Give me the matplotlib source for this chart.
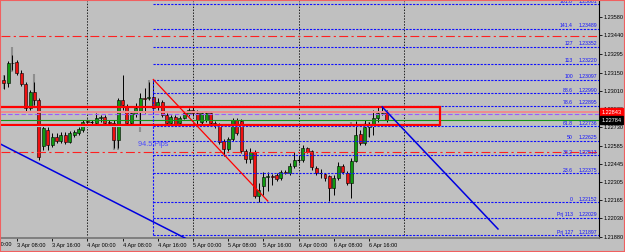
import matplotlib
matplotlib.use("Agg")
import matplotlib.pyplot as plt
from matplotlib.patches import Rectangle
import numpy as np

# hourly candles, x = hours since 3 Apr 00:00
first_hour = 5
opens = [1.23093, 1.23070, 1.23225, 1.23232, 1.23147, 1.23062, 1.22877, 1.23001, 1.22939, 1.22583,
         1.22707, 1.22591, 1.22653, 1.22622, 1.22668, 1.22614, 1.22668, 1.22684, 1.22707, 1.22776,
         1.22769, 1.22761, 1.22800, 1.22807, 1.22769, 1.22761, 1.22630, 1.22939, 1.22892, 1.22761,
         1.22831, 1.22846, 1.22954, 1.22954, 1.22962, 1.22885, 1.22923, 1.22823, 1.22761, 1.22807,
         1.22761, 1.22800, 1.22831, 1.22861, 1.22838, 1.22769, 1.22784, 1.22838, 1.22761, 1.22745,
         1.22622, 1.22560, 1.22637, 1.22784, 1.22776, 1.22545, 1.22483, 1.22537, 1.22197, 1.22274,
         1.22344, 1.22352, 1.22359, 1.22336, 1.22382, 1.22375, 1.22429, 1.22475, 1.22475, 1.22568,
         1.22545, 1.22413, 1.22375, 1.22367, 1.22352, 1.22259, 1.22336, 1.22429, 1.22375, 1.22297,
         1.22467, 1.22676, 1.22606, 1.22730, 1.22745, 1.22800, 1.22838, 1.22846]
highs = [1.23132, 1.23240, 1.23286, 1.23248, 1.23171, 1.23078, 1.23016, 1.23078, 1.22954, 1.22745,
         1.22730, 1.22684, 1.22684, 1.22692, 1.22692, 1.22699, 1.22707, 1.22730, 1.22784, 1.22792,
         1.22784, 1.22838, 1.22823, 1.22823, 1.22784, 1.22784, 1.22954, 1.23132, 1.22908, 1.22846,
         1.22916, 1.22993, 1.23031, 1.23078, 1.23097, 1.22954, 1.22939, 1.22838, 1.22823, 1.22823,
         1.22815, 1.22854, 1.22877, 1.22885, 1.22861, 1.22846, 1.22854, 1.22854, 1.22776, 1.22761,
         1.22637, 1.22653, 1.22800, 1.22800, 1.22792, 1.22560, 1.22568, 1.22552, 1.22297, 1.22382,
         1.22382, 1.22367, 1.22375, 1.22398, 1.22398, 1.22452, 1.22537, 1.22514, 1.22591, 1.22576,
         1.22552, 1.22429, 1.22406, 1.22375, 1.22359, 1.22359, 1.22460, 1.22444, 1.22390, 1.22491,
         1.22776, 1.22707, 1.22784, 1.22769, 1.22861, 1.22885, 1.22885, 1.22861]
lows = [1.23024, 1.23039, 1.23171, 1.23132, 1.23047, 1.22854, 1.22861, 1.22900, 1.22475, 1.22552,
        1.22552, 1.22576, 1.22606, 1.22606, 1.22599, 1.22606, 1.22653, 1.22668, 1.22692, 1.22761,
        1.22753, 1.22745, 1.22769, 1.22753, 1.22745, 1.22568, 1.22568, 1.22861, 1.22745, 1.22745,
        1.22807, 1.22745, 1.22838, 1.22939, 1.22846, 1.22861, 1.22807, 1.22753, 1.22745, 1.22738,
        1.22745, 1.22792, 1.22815, 1.22815, 1.22753, 1.22753, 1.22769, 1.22745, 1.22722, 1.22599,
        1.22506, 1.22545, 1.22622, 1.22668, 1.22529, 1.22452, 1.22452, 1.22181, 1.22152, 1.22205,
        1.22236, 1.22282, 1.22313, 1.22321, 1.22367, 1.22359, 1.22413, 1.22452, 1.22460, 1.22529,
        1.22398, 1.22359, 1.22336, 1.22313, 1.22158, 1.22205, 1.22321, 1.22367, 1.22282, 1.22181,
        1.22460, 1.22591, 1.22591, 1.22653, 1.22668, 1.22769, 1.22823, 1.22769]
closes = [1.23070, 1.23225, 1.23221, 1.23147, 1.23062, 1.22877, 1.23001, 1.22939, 1.22498, 1.22722,
          1.22591, 1.22653, 1.22622, 1.22668, 1.22614, 1.22684, 1.22692, 1.22715, 1.22769, 1.22772,
          1.22769, 1.22800, 1.22807, 1.22761, 1.22761, 1.22630, 1.22939, 1.22900, 1.22761, 1.22838,
          1.22877, 1.22954, 1.22950, 1.22962, 1.22877, 1.22923, 1.22823, 1.22761, 1.22807, 1.22753,
          1.22800, 1.22838, 1.22861, 1.22838, 1.22784, 1.22838, 1.22838, 1.22761, 1.22738, 1.22614,
          1.22560, 1.22637, 1.22784, 1.22684, 1.22545, 1.22483, 1.22537, 1.22197, 1.22243, 1.22344,
          1.22352, 1.22344, 1.22328, 1.22382, 1.22375, 1.22429, 1.22475, 1.22476, 1.22568, 1.22537,
          1.22421, 1.22375, 1.22375, 1.22336, 1.22259, 1.22336, 1.22429, 1.22382, 1.22297, 1.22467,
          1.22668, 1.22606, 1.22730, 1.22738, 1.22800, 1.22838, 1.22846, 1.22784]

# faint grey shadow bars seen behind some candles
ghost_hours = [5, 7, 12, 30, 31, 36, 38, 50, 57, 84, 87, 88]
ghost_highs = [1.23132, 1.23348, 1.23140, 1.22630, 1.22630, 1.22846, 1.23093, 1.22776, 1.22761, 1.22769, 1.22761, 1.22769]
ghost_lows = [1.23024, 1.23155, 1.22877, 1.22552, 1.22552, 1.22692, 1.22939, 1.22738, 1.22730, 1.22745, 1.22738, 1.22653]

# fibonacci retracement drawn from the 4 Apr high to the 5 Apr low
fib_start_hour = 39
fib_names = ["161.8", "141.4", "127", "113", "100", "88.6", "78.6", "61.8",
             "50", "38.2", "23.6", "0", "Prj 113", "Prj 127"]
fib_prices = [1.23681, 1.23489, 1.23352, 1.23220, 1.23097, 1.22990, 1.22895, 1.22736,
              1.22625, 1.22513, 1.22375, 1.22152, 1.22029, 1.21897]
fib_pips_label = "94.5 Pips"

# drawn objects
red_trend = ([39, 65], [1.23097, 1.22158])
blue_trend_right = ([91, 117.3], [1.22885, 1.21942])
blue_trend_left = ([4.0, 47.0], [1.22603, 1.21858])
zone_hours = (-5, 104.2)
zone_prices = (1.22745, 1.22885)
dashdot_levels = [1.23433, 1.22537]
bid_price = 1.22843
ask_price = 1.22784
purple_level = 1.22827
lightblue_level = 1.22738
day_breaks = [24, 48, 72, 96]

time_ticks = [0, 8, 16, 24, 32, 40, 48, 56, 64, 72, 80, 88]
time_labels = ["3 Apr 00:00", "3 Apr 08:00", "3 Apr 16:00", "4 Apr 00:00", "4 Apr 08:00",
               "4 Apr 16:00", "5 Apr 00:00", "5 Apr 08:00", "5 Apr 16:00", "6 Apr 00:00",
               "6 Apr 08:00", "6 Apr 16:00"]
price_ticks = [1.23720, 1.23580, 1.23440, 1.23295, 1.23150, 1.23010, 1.22870, 1.22730,
               1.22585, 1.22445, 1.22305, 1.22165, 1.22030, 1.21880]

BG = "#c0c0c0"
BULL = "#109a10"
BEAR = "#ee1010"
FIB = "#1010ff"
FONT = "Liberation Sans"
XLIM = (4.39, 140.25)
YLIM = (1.218723, 1.237036)

fig = plt.figure(figsize=(6.25, 2.52), dpi=100, facecolor=BG)
ax = fig.add_axes([1 / 625, 1 - 238 / 252, 598 / 625, 237 / 252])
ax.set_facecolor(BG)

# shadow bars, then candles
ax.vlines(ghost_hours, ghost_lows, ghost_highs, color="#8e8e8e", lw=1.5, zorder=2.5)
hours = first_hour + np.arange(len(opens))
o = np.array(opens)
c = np.array(closes)
ax.vlines(hours, lows, highs, color="black", lw=0.7, zorder=3)
doji = np.abs(c - o) < 0.00004
bull = (c > o) & ~doji
bear = (c < o) & ~doji
ax.bar(hours[bull], (c - o)[bull], bottom=o[bull], width=0.68,
       color=BULL, edgecolor="black", lw=0.4, zorder=4)
ax.bar(hours[bear], (o - c)[bear], bottom=c[bear], width=0.68,
       color=BEAR, edgecolor="black", lw=0.4, zorder=4)
ax.hlines(c[doji], hours[doji] - 0.35, hours[doji] + 0.35, color="black", lw=0.8, zorder=4)

# period separators
for h in day_breaks:
    ax.axvline(h, color="#202020", lw=0.7, ls=(0, (1.5, 1.5)), zorder=2)

# horizontal lines
for p in dashdot_levels:
    ax.axhline(p, color="#ff2020", lw=0.8, ls=(0, (8, 3, 2, 3)), zorder=5)
ax.axhline(lightblue_level, color="#a8d8f0", lw=0.8, zorder=5)
ax.axhline(bid_price, color="#f08c8c", lw=1.4, zorder=5)
ax.axhline(purple_level, color="#9a5cff", lw=0.8, ls=(0, (4, 2)), zorder=5)
ax.axhline(ask_price, color="#149614", lw=0.8, zorder=5)

# zone rectangle
ax.add_patch(Rectangle((zone_hours[0], zone_prices[0]), zone_hours[1] - zone_hours[0],
                       zone_prices[1] - zone_prices[0], fill=False, ec="#ff0000",
                       lw=1.6, zorder=6))

# fibonacci levels
for name, p in zip(fib_names, fib_prices):
    ax.hlines(p, fib_start_hour, 141, color=FIB, lw=0.8, ls=(0, (2, 1.2)), zorder=5)
    ax.annotate(name, xy=(572 / 598, p), xycoords=ax.get_yaxis_transform(),
                xytext=(0, 0.2), textcoords="offset points", ha="right", va="bottom",
                fontsize=3.7, color=FIB, family=FONT, zorder=7)
    ax.annotate(f"{p:.5f}", xy=(596 / 598, p), xycoords=ax.get_yaxis_transform(),
                xytext=(0, 0.2), textcoords="offset points", ha="right", va="bottom",
                fontsize=3.7, color=FIB, family=FONT, zorder=7)
ax.vlines(fib_start_hour, fib_prices[-1], fib_prices[4], color=FIB, lw=0.8,
          ls=(0, (2, 1.2)), zorder=5)
ax.text(35.5, 1.22591, fib_pips_label, color="#4a4aff", fontsize=5.2, family=FONT,
        ha="left", va="center", zorder=7)

# trend lines
ax.plot(*red_trend, color="#ff0000", lw=0.9, zorder=6)
ax.plot(*blue_trend_right, color="#0000e0", lw=1.1, zorder=6)
ax.plot(*blue_trend_left, color="#0000e0", lw=1.1, zorder=6)

# axes
for side in ["left", "top"]:
    ax.spines[side].set_visible(False)
ax.spines["right"].set_color("black")
ax.spines["right"].set_linewidth(0.8)
ax.spines["bottom"].set_color("#7a7a7a")
ax.spines["bottom"].set_linewidth(1.3)

ax.yaxis.tick_right()
ax.set_yticks(price_ticks)
ax.set_yticklabels([f"{p:.5f}" for p in price_ticks])
ax.tick_params(axis="y", length=2, width=0.6, pad=1, labelsize=4, colors="black")
ax.set_xticks(time_ticks)
ax.set_xticklabels(time_labels)
ax.tick_params(axis="x", length=2.2, width=0.6, pad=1.5, labelsize=4, colors="black")
for lab in ax.get_xticklabels() + ax.get_yticklabels():
    lab.set_family(FONT)
for lab in ax.get_xticklabels():
    lab.set_ha("left")
# set_ticks widens the view, so fix the limits afterwards
ax.set_xlim(*XLIM)
ax.set_ylim(*YLIM)
# the first time label sits just off the left edge
ax.annotate(time_labels[0], xy=(time_ticks[0], 0), xycoords=ax.get_xaxis_transform(),
            xytext=(1.1, -2.7), textcoords="offset points", ha="left", va="top",
            fontsize=4, family=FONT, annotation_clip=False)

# price tags on the right scale
for p, col in [(bid_price, "#ff0000"), (ask_price, "#000000")]:
    ax.annotate(f"{p:.5f}", xy=(1.0, p), xycoords=ax.get_yaxis_transform(),
                xytext=(1.6, 0), textcoords="offset points", ha="left", va="center",
                fontsize=4, color="white", family=FONT, annotation_clip=False, zorder=8,
                bbox=dict(boxstyle="square,pad=0.25", fc=col, ec=col))

# window frame
fig.add_artist(Rectangle((0, 0), 1, 1, transform=fig.transFigure, fill=False,
                         ec="#f06060", lw=1.5))

fig.savefig("out.png", dpi=100, facecolor=BG)
